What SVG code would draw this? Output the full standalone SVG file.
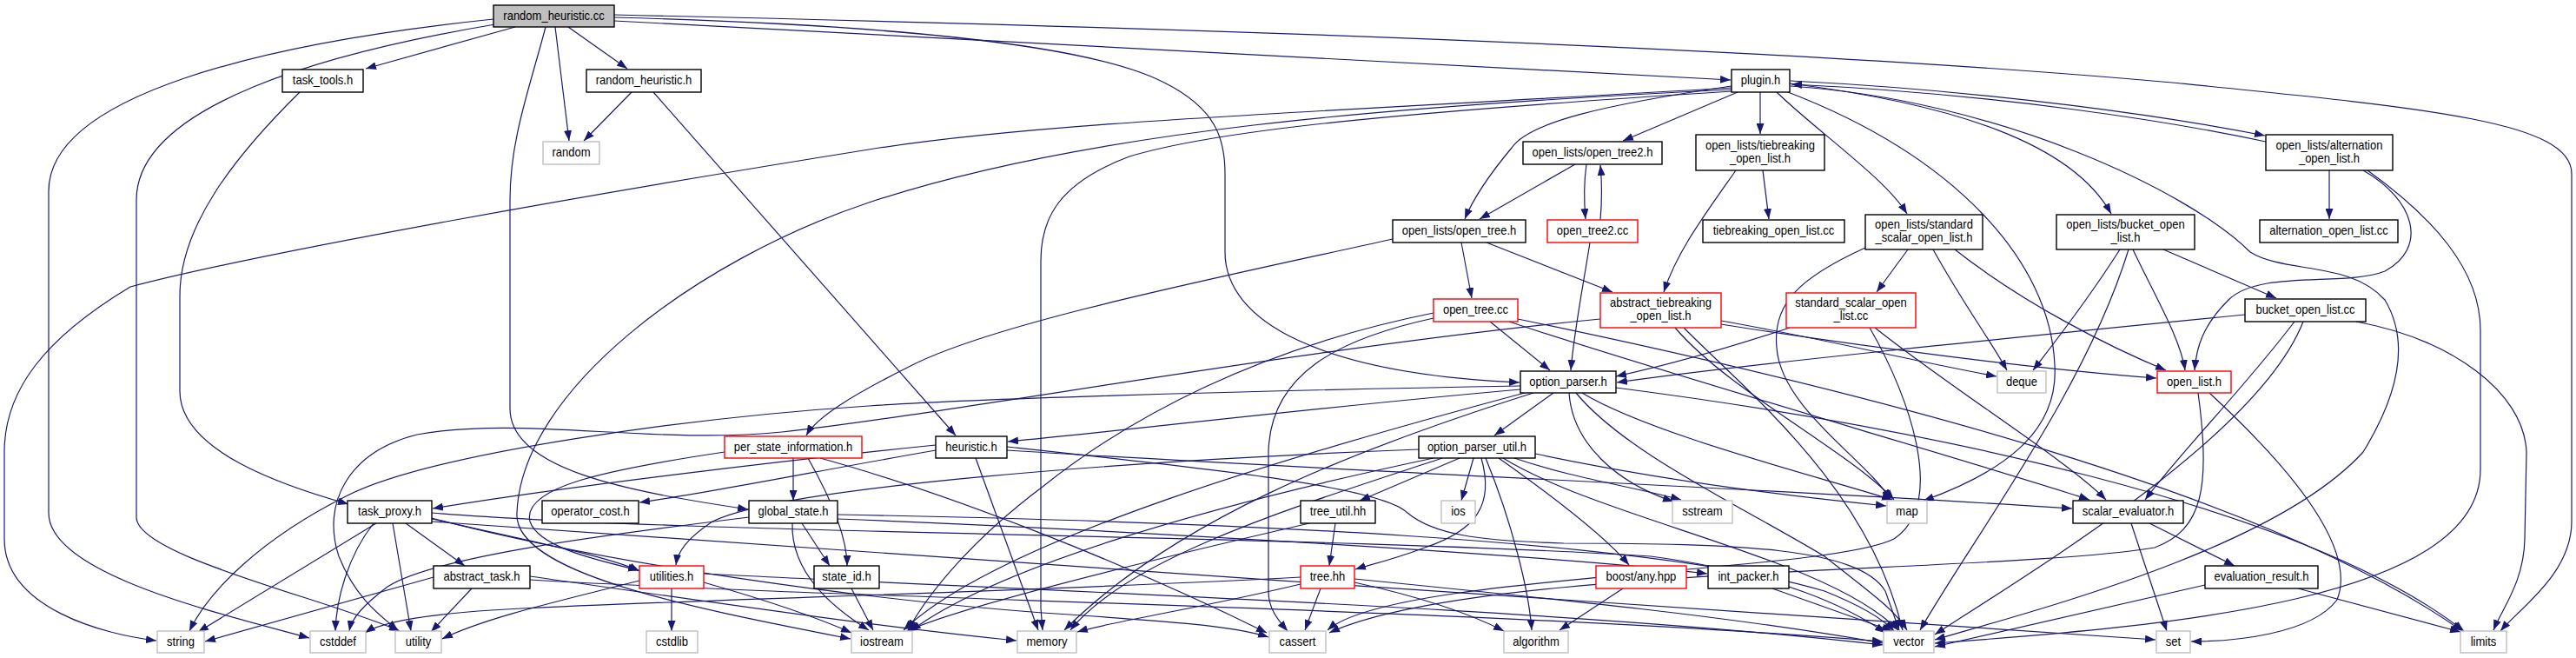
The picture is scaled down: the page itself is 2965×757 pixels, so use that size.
<svg xmlns="http://www.w3.org/2000/svg" width="2965" height="757" viewBox="0 0 2965 757">
<style>
.e{fill:none;stroke:#191970;stroke-width:1.2;marker-end:url(#arr)}
.n rect{fill:#ffffff;stroke:#000000;stroke-width:1.4}
.n.r rect{stroke:#ff0000}
.n.g rect{stroke:#bfbfbf}
.n.root rect{fill:#bfbfbf}
.n text{font-family:"Liberation Sans",Arial,sans-serif;font-size:14px;text-anchor:middle;fill:#000000;transform:scaleX(0.93);transform-box:fill-box;transform-origin:center}
</style>
<defs>
<marker id="arr" markerUnits="userSpaceOnUse" markerWidth="12" markerHeight="9" refX="12" refY="4.5" orient="auto">
<path d="M0,0 L12,4.5 L0,9 z" fill="#191970"/>
</marker>
</defs>
<rect x="0" y="0" width="2965" height="757" fill="#ffffff"/>
<g id="edges">
<path class="e" d="M593,31 L421,79"/>
<path class="e" d="M654,31 L722,79"/>
<path class="e" d="M639,31 L655,162"/>
<path class="e" d="M628,31 C610,100 587,160 587,230 L587,470 C587,540 720,565 861,586"/>
<path class="e" d="M568,22 C300,50 56,110 56,220 L56,590 C56,660 250,705 356,734"/>
<path class="e" d="M570,28 C380,60 157,120 157,230 L157,595 C157,640 380,690 460,726"/>
<path class="e" d="M707,24 L1992,92"/>
<path class="e" d="M707,20 C1000,28 1250,48 1340,95 C1400,125 1410,160 1410,200 L1410,290 C1410,370 1520,430 1749,440"/>
<path class="e" d="M707,17 C1200,28 2000,50 2500,95 C2800,125 2960,140 2960,200 L2960,600 C2960,660 2900,700 2878,726"/>
<path class="e" d="M345,106 C270,180 207,260 207,340 L207,450 C207,520 330,560 401,580"/>
<path class="e" d="M727,106 L672,162"/>
<path class="e" d="M752,106 L1100,501"/>
<path class="e" d="M2000,106 L1868,162"/>
<path class="e" d="M1993,99 C1850,120 1760,140 1740,170 C1715,200 1695,230 1686,252"/>
<path class="e" d="M2026,106 L2026,154"/>
<path class="e" d="M2045,106 C2090,150 2170,205 2195,246"/>
<path class="e" d="M2058,106 C2250,180 2360,300 2365,420 C2370,500 2300,545 2214,576"/>
<path class="e" d="M2060,96 C2250,120 2385,165 2430,246"/>
<path class="e" d="M2061,93 C2300,105 2500,135 2607,156"/>
<path class="e" d="M2608,163 C2500,140 2300,108 2062,97"/>
<path class="e" d="M2061,99 C2300,115 2520,220 2590,290 C2630,315 2705,300 2745,345 C2775,395 2760,455 2720,520 C2620,630 2350,700 2227,736"/>
<path class="e" d="M1993,101 C1500,130 1200,140 1000,172 C700,220 300,290 150,330 C50,390 5,450 5,520 L5,620 C5,700 120,730 180,737"/>
<path class="e" d="M1993,103 C1600,122 1250,150 1000,233 C800,300 600,450 595,590 C590,660 800,700 979,735"/>
<path class="e" d="M1993,105 C1600,130 1400,150 1300,180 C1220,210 1198,250 1198,300 L1198,700 L1200,725"/>
<path class="e" d="M1813,189 L1703,252"/>
<path class="e" d="M1826,189 C1823,210 1823,230 1825,252"/>
<path class="e" d="M1842,253 C1844,230 1844,210 1842,190"/>
<path class="e" d="M1682,279 L1694,343"/>
<path class="e" d="M1711,279 L1856,336"/>
<path class="e" d="M1603,275 C1400,320 1150,370 1050,420 C980,455 940,480 928,501"/>
<path class="e" d="M1998,196 C1960,250 1930,290 1915,336"/>
<path class="e" d="M2029,196 L2036,252"/>
<path class="e" d="M1830,279 C1822,330 1812,380 1808,426"/>
<path class="e" d="M1715,370 L1784,426"/>
<path class="e" d="M1650,360 C1450,400 1300,480 1200,560 C1120,620 1070,680 1045,725"/>
<path class="e" d="M1650,366 C1540,390 1462,430 1460,520 L1460,680 C1460,700 1470,712 1482,726"/>
<path class="e" d="M1737,370 C1900,425 2300,540 2405,575"/>
<path class="e" d="M1747,367 C2100,440 2600,560 2834,726"/>
<path class="e" d="M1981,369 C2100,390 2200,415 2298,433"/>
<path class="e" d="M1981,373 C2150,400 2350,425 2482,435"/>
<path class="e" d="M1928,377 C1990,450 2130,520 2180,575"/>
<path class="e" d="M1938,377 C2010,450 2150,560 2190,725"/>
<path class="e" d="M1842,367 C1500,400 1100,475 900,497 C750,512 600,478 480,500 C400,520 370,580 390,640 C410,690 440,710 458,725"/>
<path class="e" d="M2196,287 L2160,336"/>
<path class="e" d="M2225,287 C2260,350 2290,390 2310,426"/>
<path class="e" d="M2250,287 C2330,350 2430,400 2493,426"/>
<path class="e" d="M2147,285 C2070,320 2040,350 2045,400 C2050,470 2150,530 2176,575"/>
<path class="e" d="M2060,377 C1990,400 1920,420 1860,433"/>
<path class="e" d="M2152,377 C2200,460 2240,580 2180,620 C2100,660 1600,660 1528,725"/>
<path class="e" d="M2158,377 C2250,450 2380,530 2424,575"/>
<path class="e" d="M2440,287 C2400,350 2360,400 2340,426"/>
<path class="e" d="M2450,287 C2400,450 2270,620 2210,725"/>
<path class="e" d="M2455,287 C2480,340 2510,390 2515,426"/>
<path class="e" d="M2490,287 L2620,343"/>
<path class="e" d="M2681,196 L2681,252"/>
<path class="e" d="M2720,196 C2780,230 2795,285 2745,312 C2700,330 2600,310 2565,345 C2535,375 2528,400 2526,426"/>
<path class="e" d="M2725,196 C2800,250 2855,310 2855,380 L2855,540 C2855,690 2500,720 2227,740"/>
<path class="e" d="M2584,362 C2300,390 2000,420 1861,440"/>
<path class="e" d="M2641,370 C2580,450 2510,520 2469,575"/>
<path class="e" d="M2651,370 C2600,500 2350,650 2227,730"/>
<path class="e" d="M2712,370 C2820,390 2905,450 2908,520 L2906,620 C2905,670 2880,700 2870,725"/>
<path class="e" d="M1750,448 C1500,470 1300,495 1160,508"/>
<path class="e" d="M1788,452 L1720,501"/>
<path class="e" d="M1750,444 C1400,450 1100,460 1000,467 C800,480 500,520 400,570 C300,620 240,680 218,726"/>
<path class="e" d="M1755,452 C1500,520 1150,620 1040,725"/>
<path class="e" d="M1765,452 C1550,520 1350,600 1225,725"/>
<path class="e" d="M1806,452 C1810,510 1860,555 1926,577"/>
<path class="e" d="M1821,452 C1900,500 2100,550 2178,575"/>
<path class="e" d="M1814,452 C1870,520 2000,580 2100,640 C2150,680 2180,700 2195,725"/>
<path class="e" d="M1860,446 C2200,490 2650,580 2836,726"/>
<path class="e" d="M1680,527 L1565,576"/>
<path class="e" d="M1696,527 L1682,576"/>
<path class="e" d="M1705,527 C1720,580 1700,610 1640,630 C1600,645 1575,650 1560,655"/>
<path class="e" d="M1710,527 C1740,600 1760,680 1763,725"/>
<path class="e" d="M1725,527 C1800,580 1850,620 1875,650"/>
<path class="e" d="M1743,527 C1810,550 1880,560 1935,575"/>
<path class="e" d="M1767,522 C1900,550 2050,570 2171,582"/>
<path class="e" d="M1730,527 C1850,600 2100,640 2185,725"/>
<path class="e" d="M1633,517 C1300,530 900,560 820,600 C790,620 780,635 778,650"/>
<path class="e" d="M1650,527 C1400,580 1150,650 1048,726"/>
<path class="e" d="M1660,527 C1500,580 1300,640 1232,725"/>
<path class="e" d="M1123,527 L1195,725"/>
<path class="e" d="M1077,512 C900,530 650,560 498,585"/>
<path class="e" d="M1077,518 C950,540 800,570 736,578"/>
<path class="e" d="M1159,518 C1500,540 2000,560 2385,585"/>
<path class="e" d="M1159,514 C1400,540 1590,560 1620,590 C1650,615 1700,622 1800,625 C2000,625 2140,630 2170,680 L2186,725"/>
<path class="e" d="M913,527 L913,576"/>
<path class="e" d="M930,527 C960,580 975,620 975,651"/>
<path class="e" d="M834,520 C700,540 600,560 610,600 C620,630 690,645 735,656"/>
<path class="e" d="M944,527 C1100,570 1300,650 1458,728"/>
<path class="e" d="M433,602 L228,727"/>
<path class="e" d="M430,602 C400,640 387,690 386,726"/>
<path class="e" d="M452,602 L473,726"/>
<path class="e" d="M467,602 L535,651"/>
<path class="e" d="M497,597 C600,620 700,640 736,657"/>
<path class="e" d="M497,596 C700,650 1000,690 1200,705 C1350,715 1420,720 1460,733"/>
<path class="e" d="M497,590 C800,615 1500,615 1900,640 C2050,660 2130,700 2170,728"/>
<path class="e" d="M497,600 C1000,640 2000,700 2481,736"/>
<path class="e" d="M499,664 L236,738"/>
<path class="e" d="M543,677 L496,727"/>
<path class="e" d="M610,663 C800,690 1000,720 1170,737"/>
<path class="e" d="M610,667 C1000,690 1700,700 2167,738"/>
<path class="e" d="M773,677 L773,726"/>
<path class="e" d="M736,668 C650,690 560,710 509,735"/>
<path class="e" d="M810,670 C880,690 940,710 980,728"/>
<path class="e" d="M810,660 C1200,680 1800,700 2167,742"/>
<path class="e" d="M923,602 L955,651"/>
<path class="e" d="M912,602 C910,660 960,700 1000,725"/>
<path class="e" d="M862,595 C700,615 500,640 446,675 C420,695 405,710 402,726"/>
<path class="e" d="M964,597 C1300,610 1800,640 1965,660"/>
<path class="e" d="M964,592 C1400,600 1900,620 2100,680 C2150,700 2170,715 2180,726"/>
<path class="e" d="M980,677 L1005,725"/>
<path class="e" d="M1537,602 L1530,651"/>
<path class="e" d="M1507,602 C1300,650 1100,700 1044,726"/>
<path class="e" d="M1520,677 L1502,725"/>
<path class="e" d="M1497,672 C1380,700 1280,715 1240,727"/>
<path class="e" d="M1559,670 C1650,690 1700,710 1731,726"/>
<path class="e" d="M1497,664 C1200,680 800,690 600,700 C500,705 440,715 420,728"/>
<path class="e" d="M1559,666 C1800,690 2000,710 2167,740"/>
<path class="e" d="M1868,677 L1795,725"/>
<path class="e" d="M2040,677 L2178,726"/>
<path class="e" d="M2474,602 L2572,651"/>
<path class="e" d="M2453,602 L2494,726"/>
<path class="e" d="M2538,673 L2227,744"/>
<path class="e" d="M2645,677 L2832,727"/>
<path class="e" d="M2543,452 C2660,560 2710,640 2690,690 C2660,730 2570,738 2522,738"/>
<path class="e" d="M2530,452 C2545,560 2535,610 2480,630 C2300,660 1700,650 1530,728"/>
</g>
<g id="node-random_heuristic_cc" class="n root"><rect x="568" y="6" width="139" height="25"/><text x="637.5" y="23">random_heuristic.cc</text></g>
<g id="node-task_tools_h" class="n"><rect x="325" y="80" width="93" height="26"/><text x="371.5" y="97.5">task_tools.h</text></g>
<g id="node-random_heuristic_h" class="n"><rect x="675" y="80" width="132" height="26"/><text x="741" y="97.5">random_heuristic.h</text></g>
<g id="node-plugin_h" class="n"><rect x="1993" y="80" width="67" height="26"/><text x="2026.5" y="97.5">plugin.h</text></g>
<g id="node-random" class="n g"><rect x="625" y="163" width="65" height="26"/><text x="657.5" y="180.5">random</text></g>
<g id="node-open_tree2_h" class="n"><rect x="1753" y="163" width="160" height="26"/><text x="1833" y="180.5">open_lists/open_tree2.h</text></g>
<g id="node-tiebreaking_open_list_h" class="n"><rect x="1952" y="155" width="148" height="41"/><text x="2026" y="172">open_lists/tiebreaking</text><text x="2026" y="187">_open_list.h</text></g>
<g id="node-alternation_open_list_h" class="n"><rect x="2608" y="155" width="146" height="41"/><text x="2681" y="172">open_lists/alternation</text><text x="2681" y="187">_open_list.h</text></g>
<g id="node-open_tree_h" class="n"><rect x="1603" y="253" width="153" height="26"/><text x="1679.5" y="270.5">open_lists/open_tree.h</text></g>
<g id="node-open_tree2_cc" class="n r"><rect x="1781" y="253" width="104" height="26"/><text x="1833" y="270.5">open_tree2.cc</text></g>
<g id="node-tiebreaking_open_list_cc" class="n"><rect x="1960" y="253" width="163" height="26"/><text x="2041.5" y="270.5">tiebreaking_open_list.cc</text></g>
<g id="node-standard_scalar_open_list_h" class="n"><rect x="2147" y="247" width="135" height="40"/><text x="2214.5" y="263.5">open_lists/standard</text><text x="2214.5" y="278.5">_scalar_open_list.h</text></g>
<g id="node-bucket_open_list_h" class="n"><rect x="2367" y="247" width="159" height="40"/><text x="2446.5" y="263.5">open_lists/bucket_open</text><text x="2446.5" y="278.5">_list.h</text></g>
<g id="node-alternation_open_list_cc" class="n"><rect x="2601" y="253" width="159" height="26"/><text x="2680.5" y="270.5">alternation_open_list.cc</text></g>
<g id="node-open_tree_cc" class="n r"><rect x="1650" y="344" width="97" height="26"/><text x="1698.5" y="361.5">open_tree.cc</text></g>
<g id="node-abstract_tiebreaking_open_list_h" class="n r"><rect x="1842" y="337" width="139" height="40"/><text x="1911.5" y="353.5">abstract_tiebreaking</text><text x="1911.5" y="368.5">_open_list.h</text></g>
<g id="node-standard_scalar_open_list_cc" class="n r"><rect x="2056" y="337" width="149" height="40"/><text x="2130.5" y="353.5">standard_scalar_open</text><text x="2130.5" y="368.5">_list.cc</text></g>
<g id="node-bucket_open_list_cc" class="n"><rect x="2584" y="344" width="139" height="26"/><text x="2653.5" y="361.5">bucket_open_list.cc</text></g>
<g id="node-option_parser_h" class="n"><rect x="1750" y="427" width="110" height="25"/><text x="1805" y="444">option_parser.h</text></g>
<g id="node-deque" class="n g"><rect x="2299" y="427" width="56" height="25"/><text x="2327" y="444">deque</text></g>
<g id="node-open_list_h" class="n r"><rect x="2483" y="427" width="85" height="25"/><text x="2525.5" y="444">open_list.h</text></g>
<g id="node-per_state_information_h" class="n r"><rect x="834" y="502" width="158" height="25"/><text x="913" y="519">per_state_information.h</text></g>
<g id="node-heuristic_h" class="n"><rect x="1077" y="502" width="82" height="25"/><text x="1118" y="519">heuristic.h</text></g>
<g id="node-option_parser_util_h" class="n"><rect x="1633" y="502" width="134" height="25"/><text x="1700" y="519">option_parser_util.h</text></g>
<g id="node-task_proxy_h" class="n"><rect x="400" y="576" width="97" height="26"/><text x="448.5" y="593.5">task_proxy.h</text></g>
<g id="node-operator_cost_h" class="n"><rect x="624" y="576" width="111" height="26"/><text x="679.5" y="593.5">operator_cost.h</text></g>
<g id="node-global_state_h" class="n"><rect x="862" y="576" width="102" height="26"/><text x="913" y="593.5">global_state.h</text></g>
<g id="node-tree_util_hh" class="n"><rect x="1497" y="576" width="86" height="26"/><text x="1540" y="593.5">tree_util.hh</text></g>
<g id="node-ios" class="n g"><rect x="1659" y="576" width="39" height="26"/><text x="1678.5" y="593.5">ios</text></g>
<g id="node-sstream" class="n g"><rect x="1925" y="576" width="69" height="26"/><text x="1959.5" y="593.5">sstream</text></g>
<g id="node-map" class="n g"><rect x="2172" y="576" width="46" height="26"/><text x="2195" y="593.5">map</text></g>
<g id="node-scalar_evaluator_h" class="n"><rect x="2386" y="576" width="127" height="26"/><text x="2449.5" y="593.5">scalar_evaluator.h</text></g>
<g id="node-abstract_task_h" class="n"><rect x="499" y="651" width="111" height="26"/><text x="554.5" y="668.5">abstract_task.h</text></g>
<g id="node-utilities_h" class="n r"><rect x="736" y="651" width="74" height="26"/><text x="773" y="668.5">utilities.h</text></g>
<g id="node-state_id_h" class="n"><rect x="937" y="651" width="75" height="26"/><text x="974.5" y="668.5">state_id.h</text></g>
<g id="node-tree_hh" class="n r"><rect x="1497" y="651" width="62" height="26"/><text x="1528" y="668.5">tree.hh</text></g>
<g id="node-boost_any_hpp" class="n r"><rect x="1837" y="651" width="104" height="26"/><text x="1889" y="668.5">boost/any.hpp</text></g>
<g id="node-int_packer_h" class="n"><rect x="1966" y="651" width="93" height="26"/><text x="2012.5" y="668.5">int_packer.h</text></g>
<g id="node-evaluation_result_h" class="n"><rect x="2538" y="651" width="130" height="26"/><text x="2603" y="668.5">evaluation_result.h</text></g>
<g id="node-string" class="n g"><rect x="181" y="726" width="54" height="25"/><text x="208" y="743">string</text></g>
<g id="node-cstddef" class="n g"><rect x="357" y="726" width="64" height="25"/><text x="389" y="743">cstddef</text></g>
<g id="node-utility" class="n g"><rect x="455" y="726" width="53" height="25"/><text x="481.5" y="743">utility</text></g>
<g id="node-cstdlib" class="n g"><rect x="744" y="726" width="59" height="25"/><text x="773.5" y="743">cstdlib</text></g>
<g id="node-iostream" class="n g"><rect x="980" y="726" width="70" height="25"/><text x="1015" y="743">iostream</text></g>
<g id="node-memory" class="n g"><rect x="1171" y="726" width="68" height="25"/><text x="1205" y="743">memory</text></g>
<g id="node-cassert" class="n g"><rect x="1461" y="726" width="65" height="25"/><text x="1493.5" y="743">cassert</text></g>
<g id="node-algorithm" class="n g"><rect x="1731" y="726" width="74" height="25"/><text x="1768" y="743">algorithm</text></g>
<g id="node-vector" class="n g"><rect x="2168" y="726" width="58" height="25"/><text x="2197" y="743">vector</text></g>
<g id="node-set" class="n g"><rect x="2482" y="726" width="39" height="25"/><text x="2501.5" y="743">set</text></g>
<g id="node-limits" class="n g"><rect x="2832" y="726" width="53" height="25"/><text x="2858.5" y="743">limits</text></g>
</svg>
